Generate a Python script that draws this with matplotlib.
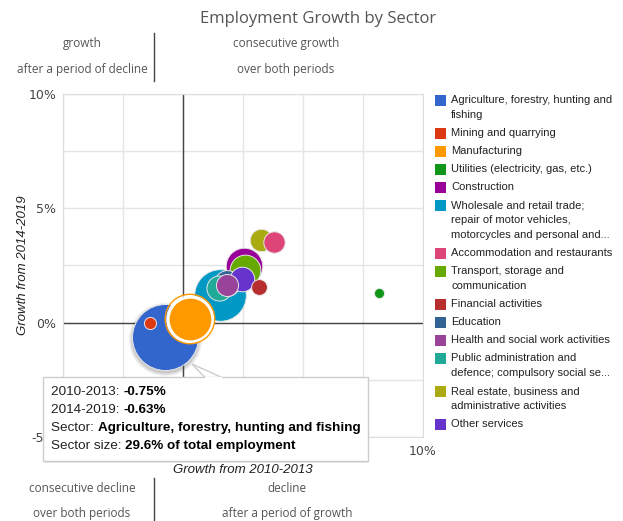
import matplotlib.pyplot as plt
import numpy as np
from matplotlib.patches import Rectangle, Polygon
from matplotlib.ticker import FuncFormatter

# data
sectors = ["Agriculture, forestry, hunting and fishing", "Mining and quarrying", "Manufacturing",
           "Utilities (electricity, gas, etc.)", "Construction",
           "Wholesale and retail trade; repair of motor vehicles, motorcycles and personal and household goods",
           "Accommodation and restaurants", "Transport, storage and communication", "Financial activities",
           "Education", "Health and social work activities",
           "Public administration and defence; compulsory social security",
           "Real estate, business and administrative activities", "Other services"]
legend_labels = ["Agriculture, forestry, hunting and\nfishing", "Mining and quarrying", "Manufacturing",
                 "Utilities (electricity, gas, etc.)", "Construction",
                 "Wholesale and retail trade;\nrepair of motor vehicles,\nmotorcycles and personal and...",
                 "Accommodation and restaurants", "Transport, storage and\ncommunication",
                 "Financial activities", "Education", "Health and social work activities",
                 "Public administration and\ndefence; compulsory social se...",
                 "Real estate, business and\nadministrative activities", "Other services"]
growth_2010_2013 = [-0.75, -1.38, 0.29, 8.17, 2.54, 1.55, 3.80, 2.58, 3.18, 1.83, 1.82, 1.51, 3.24, 2.45]
growth_2014_2019 = [-0.63, 0.00, 0.16, 1.30, 2.47, 1.23, 3.52, 2.32, 1.55, 1.75, 1.64, 1.52, 3.61, 1.89]
sector_size = [29.6, 1.0, 13.8, 0.7, 9.1, 18.1, 3.1, 6.4, 1.7, 4.5, 3.3, 4.3, 3.4, 4.1]
colors = ['#3366cc', '#dc3912', '#ff9900', '#109618', '#990099', '#0099c6', '#dd4477',
          '#66aa00', '#b82e2e', '#316395', '#994499', '#22aa99', '#aaaa11', '#6633cc']

W, H, DPI = 623, 521, 100
fig = plt.figure(figsize=(W / DPI, H / DPI), dpi=DPI)
ax = fig.add_axes([63 / W, 1 - 437 / H, 360 / W, 343 / H])

def area(size, extra=0):
    r = 33 * np.sqrt(size / 29.6) + extra
    return (2 * r * 72 / DPI) ** 2

ax.set_xlim(-5, 10)
ax.set_ylim(-5, 10)
ax.set_xticks([-5, 0, 5, 10])
ax.set_yticks([-5, 0, 5, 10])
ax.set_xticks(np.arange(-5, 10.1, 2.5), minor=True)
ax.set_yticks(np.arange(-5, 10.1, 2.5), minor=True)
ax.set_axisbelow(True)
ax.grid(True, which='both', color='#e5e5e5', lw=1)
ax.tick_params(which='both', length=0, labelsize=9, labelcolor='#444')
ax.tick_params(axis='x', pad=6)
ax.tick_params(axis='y', pad=5)
pct = FuncFormatter(lambda v, p: f"{v:g}%")
ax.xaxis.set_major_formatter(pct)
ax.yaxis.set_major_formatter(pct)
for s in ax.spines.values():
    s.set_color('#dddddd')
ax.axvline(0, color='#444', lw=1, zorder=1.5)
ax.axhline(0, color='#444', lw=1, zorder=1.5)
ax.set_xlabel("Growth from 2010-2013", style='italic', fontsize=9.5, color='#222',
              family='Liberation Sans')
ax.set_ylabel("Growth from 2014-2019", style='italic', fontsize=9.5, color='#222',
              family='Liberation Sans')
ax.xaxis.set_label_coords(0.5, -27 / 343)
ax.yaxis.set_label_coords(-34 / 360, 0.5)

# bubbles, biggest drawn first
order = np.argsort(sector_size)[::-1]
for k, i in enumerate(order):
    z = 2 + k
    if i == 0:
        # hover shadow
        for extra, a in [(4, 0.05), (3, 0.07), (2, 0.09), (1, 0.12)]:
            ax.scatter(growth_2010_2013[i], growth_2014_2019[i] - 0.08, s=area(sector_size[i], extra),
                       color='#555555', alpha=a, lw=0, zorder=z)
    if i == 2:
        # selected bubble: white gap and outer ring
        ax.scatter(growth_2010_2013[i], growth_2014_2019[i], s=area(sector_size[i]), color=colors[i],
                   edgecolor='white', lw=2.4, zorder=z)
        ax.scatter(growth_2010_2013[i], growth_2014_2019[i], s=area(sector_size[i], 2.2),
                   facecolor='none', edgecolor=colors[i], lw=1.0, zorder=z)
    else:
        ax.scatter(growth_2010_2013[i], growth_2014_2019[i], s=area(sector_size[i]), color=colors[i],
                   edgecolor='#e6e6e6', lw=0.7, zorder=z)

# overlay in pixel coordinates for title, quadrant notes, legend and tooltip
ov = fig.add_axes([0, 0, 1, 1], zorder=10)
ov.set_xlim(0, W)
ov.set_ylim(H, 0)
ov.axis('off')
ov.patch.set_alpha(0)

ov.text(318, 19, "Employment Growth by Sector", ha='center', va='center', fontsize=12,
        color='#555', family='Open Sans')
qfont = dict(ha='center', va='center', fontsize=8.5, color='#555', family='Open Sans')
ov.text(82, 44, "growth", **qfont)
ov.text(82, 69, "after a period of decline", **qfont)
ov.text(286, 44, "consecutive growth", **qfont)
ov.text(286, 69, "over both periods", **qfont)
ov.text(82, 489, "consecutive decline", **qfont)
ov.text(82, 514, "over both periods", **qfont)
ov.text(287, 489, "decline", **qfont)
ov.text(287, 514, "after a period of growth", **qfont)
ov.plot([153.5, 153.5], [33, 81], color='#444', lw=1)
ov.plot([154, 154], [478, 521], color='#444', lw=1)

# legend
y = 100
for lab, c in zip(legend_labels, colors):
    ov.add_patch(Rectangle((435, y - 5.5), 11, 11, color=c, lw=0))
    lines = lab.split('\n')
    for j, line in enumerate(lines):
        ov.text(451, y + 15 * j, line, ha='left', va='center', fontsize=8, color='#222',
                family='Liberation Sans')
    y += 15 * (len(lines) - 1) + 18

# tooltip for the hovered bubble
ov.add_patch(Rectangle((44, 379), 325, 84, color='#000', alpha=0.08, lw=0))
ov.add_patch(Rectangle((43, 377), 325, 84, facecolor='white', edgecolor='#cccccc', lw=1))
ov.add_patch(Polygon([(192, 364), (205, 377.5), (222, 377.5)], closed=True, facecolor='white',
                     edgecolor='#cccccc', lw=1))
ov.plot([205.8, 221.2], [377.5, 377.5], color='white', lw=1.6)
tips = [("2010-2013: ", f"{growth_2010_2013[0]:.2f}%"),
        ("2014-2019: ", f"{growth_2014_2019[0]:.2f}%"),
        ("Sector: ", sectors[0]),
        ("Sector size: ", f"{sector_size[0]:.1f}% of total employment")]
for j, (a, b) in enumerate(tips):
    t = ov.text(51, 392 + 18 * j, a, ha='left', va='center', fontsize=9.7, color='#222',
                family='Liberation Sans')
    ov.annotate(b, xy=(1, 0), xycoords=t, ha='left', va='bottom', fontsize=9.7, color='#000',
                fontweight='bold', family='Liberation Sans')

fig.savefig("out.png", dpi=DPI)
